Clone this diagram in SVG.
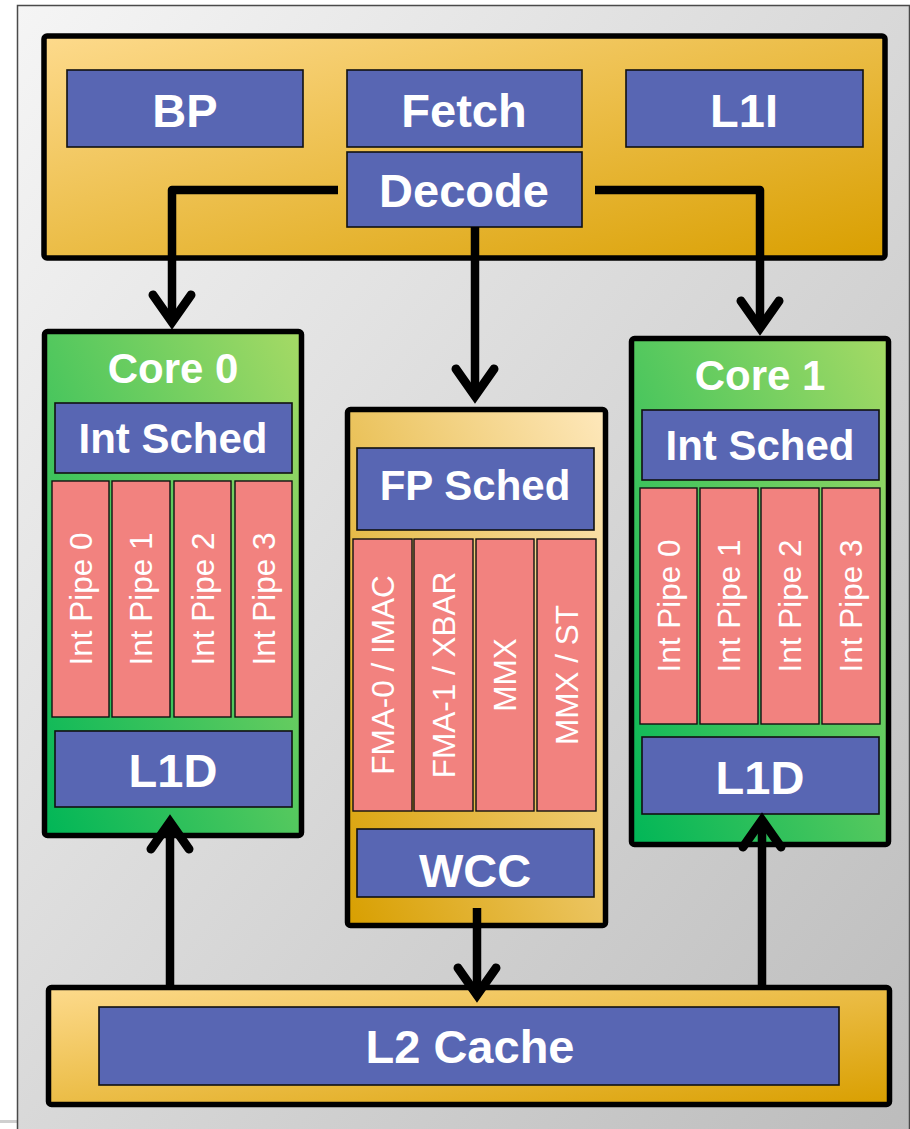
<svg xmlns="http://www.w3.org/2000/svg" width="910" height="1129" viewBox="0 0 910 1129">
  <defs>
    <linearGradient id="bg" x1="0" y1="0" x2="1" y2="1">
      <stop offset="0" stop-color="#f5f5f5"/>
      <stop offset="1" stop-color="#bcbcbc"/>
    </linearGradient>
    <linearGradient id="gold" x1="0" y1="0" x2="1" y2="1">
      <stop offset="0" stop-color="#fdda8c"/>
      <stop offset="1" stop-color="#d99f00"/>
    </linearGradient>
    <linearGradient id="goldRev" x1="1" y1="0" x2="0" y2="1">
      <stop offset="0" stop-color="#fee8bc"/>
      <stop offset="1" stop-color="#d89f00"/>
    </linearGradient>
    <linearGradient id="green" x1="0" y1="1" x2="1" y2="0">
      <stop offset="0" stop-color="#00b657"/>
      <stop offset="1" stop-color="#a6da65"/>
    </linearGradient>
    <marker id="vee" markerUnits="userSpaceOnUse" orient="auto" overflow="visible" refX="0" refY="0" markerWidth="1" markerHeight="1">
      <path d="M-25,-19 L2,0 L-25,19" fill="none" stroke="#000" stroke-width="9" stroke-linecap="round" stroke-linejoin="miter"/>
    </marker>
  </defs>
  <style>
    .block { stroke: #000; stroke-width: 5.5; }
    .unit { fill: #5866b3; stroke: #111; stroke-width: 1.6; }
    .pipe { fill: #f2827f; stroke: #111; stroke-width: 1.4; }
    .lbl { font-family: "Liberation Sans", Arial, sans-serif; font-weight: bold; fill: #fff; text-anchor: middle; }
    .big { font-size: 47px; }
    .mid { font-size: 42px; }
    .ptxt { font-family: "Liberation Sans", Arial, sans-serif; font-size: 31.5px; fill: #fff; text-anchor: middle; }
    .wire { fill: none; stroke: #000; stroke-width: 8.5; stroke-linejoin: round; marker-end: url(#vee); }
  </style>

  <!-- page background and frame -->
  <rect x="0" y="0" width="910" height="1129" fill="#ffffff"/>
  <rect x="0" y="1120" width="17" height="3" fill="#cfcfcf"/>
  <rect x="17.5" y="5.5" width="892" height="1135" fill="url(#bg)" stroke="#4a4a4a" stroke-width="1.5"/>

  <!-- front end -->
  <g id="frontend">
    <rect class="block" x="44" y="36" width="841" height="222" rx="3" fill="url(#gold)"/>
  </g>
  <g id="bp">
    <rect class="unit" x="67" y="70" width="236" height="77"/>
    <text class="lbl big" x="185" y="127">BP</text>
  </g>
  <g id="fetch">
    <rect class="unit" x="347" y="70" width="235" height="77"/>
    <text class="lbl big" x="464" y="127">Fetch</text>
  </g>
  <g id="l1i">
    <rect class="unit" x="626" y="70" width="237" height="77"/>
    <text class="lbl big" x="744" y="127">L1I</text>
  </g>
  <g id="decode">
    <rect class="unit" x="347" y="152" width="235" height="75"/>
    <text class="lbl big" x="464" y="207">Decode</text>
  </g>

  <!-- integer core 0 -->
  <g id="core0">
    <rect class="block" x="44.5" y="331.5" width="257" height="504" rx="3" fill="url(#green)"/>
    <text class="lbl mid" x="173" y="383">Core 0</text>
    <rect class="unit" x="55" y="403" width="237" height="70"/>
    <text class="lbl mid" x="173" y="453">Int Sched</text>
    <rect class="pipe" x="52" y="481" width="57" height="236"/>
    <rect class="pipe" x="112" y="481" width="58" height="236"/>
    <rect class="pipe" x="174" y="481" width="57" height="236"/>
    <rect class="pipe" x="235" y="481" width="57" height="236"/>
    <text class="ptxt" transform="translate(92,599) rotate(-90)">Int Pipe 0</text>
    <text class="ptxt" transform="translate(152,599) rotate(-90)">Int Pipe 1</text>
    <text class="ptxt" transform="translate(213.5,599) rotate(-90)">Int Pipe 2</text>
    <text class="ptxt" transform="translate(274.5,599) rotate(-90)">Int Pipe 3</text>
    <rect class="unit" x="55" y="731" width="237" height="76"/>
    <text class="lbl big" x="173" y="787">L1D</text>
  </g>

  <!-- shared floating point unit -->
  <g id="fpu">
    <rect class="block" x="347.5" y="409.5" width="258" height="516" rx="3" fill="url(#goldRev)"/>
    <rect class="unit" x="357" y="448" width="237" height="82"/>
    <text class="lbl mid" x="475" y="500">FP Sched</text>
    <rect class="pipe" x="353" y="539" width="59" height="272"/>
    <rect class="pipe" x="414" y="539" width="59" height="272"/>
    <rect class="pipe" x="476" y="539" width="58" height="272"/>
    <rect class="pipe" x="537" y="539" width="59" height="272"/>
    <text class="ptxt" transform="translate(394,675) rotate(-90)">FMA-0 / IMAC</text>
    <text class="ptxt" transform="translate(455,675) rotate(-90)">FMA-1 / XBAR</text>
    <text class="ptxt" transform="translate(516,675) rotate(-90)">MMX</text>
    <text class="ptxt" transform="translate(577.5,675) rotate(-90)">MMX / ST</text>
    <rect class="unit" x="357" y="829" width="237" height="68"/>
    <text class="lbl big" x="475" y="887">WCC</text>
  </g>

  <!-- integer core 1 -->
  <g id="core1">
    <rect class="block" x="631.5" y="338.5" width="257" height="506" rx="3" fill="url(#green)"/>
    <text class="lbl mid" x="760" y="390">Core 1</text>
    <rect class="unit" x="642" y="410" width="237" height="70"/>
    <text class="lbl mid" x="760" y="460">Int Sched</text>
    <rect class="pipe" x="640" y="488" width="57" height="236"/>
    <rect class="pipe" x="700" y="488" width="58" height="236"/>
    <rect class="pipe" x="761" y="488" width="58" height="236"/>
    <rect class="pipe" x="822" y="488" width="58" height="236"/>
    <text class="ptxt" transform="translate(680,606) rotate(-90)">Int Pipe 0</text>
    <text class="ptxt" transform="translate(740,606) rotate(-90)">Int Pipe 1</text>
    <text class="ptxt" transform="translate(801,606) rotate(-90)">Int Pipe 2</text>
    <text class="ptxt" transform="translate(862,606) rotate(-90)">Int Pipe 3</text>
    <rect class="unit" x="642" y="737" width="237" height="77"/>
    <text class="lbl big" x="760" y="794">L1D</text>
  </g>

  <!-- shared L2 -->
  <g id="l2">
    <rect class="block" x="48.5" y="987.5" width="841" height="117" rx="3" fill="url(#gold)"/>
    <rect class="unit" x="99" y="1007" width="740" height="78"/>
    <text class="lbl big" x="470" y="1063">L2 Cache</text>
  </g>

  <!-- data paths -->
  <g id="connectors">
    <path class="wire" d="M338,190 H172 V320"/>
    <path class="wire" d="M475,227 V394"/>
    <path class="wire" d="M595,190 H760 V326"/>
    <path class="wire" d="M477,908 V993"/>
    <path class="wire" d="M170,985 V824"/>
    <path class="wire" d="M762,985 V822"/>
  </g>
</svg>
